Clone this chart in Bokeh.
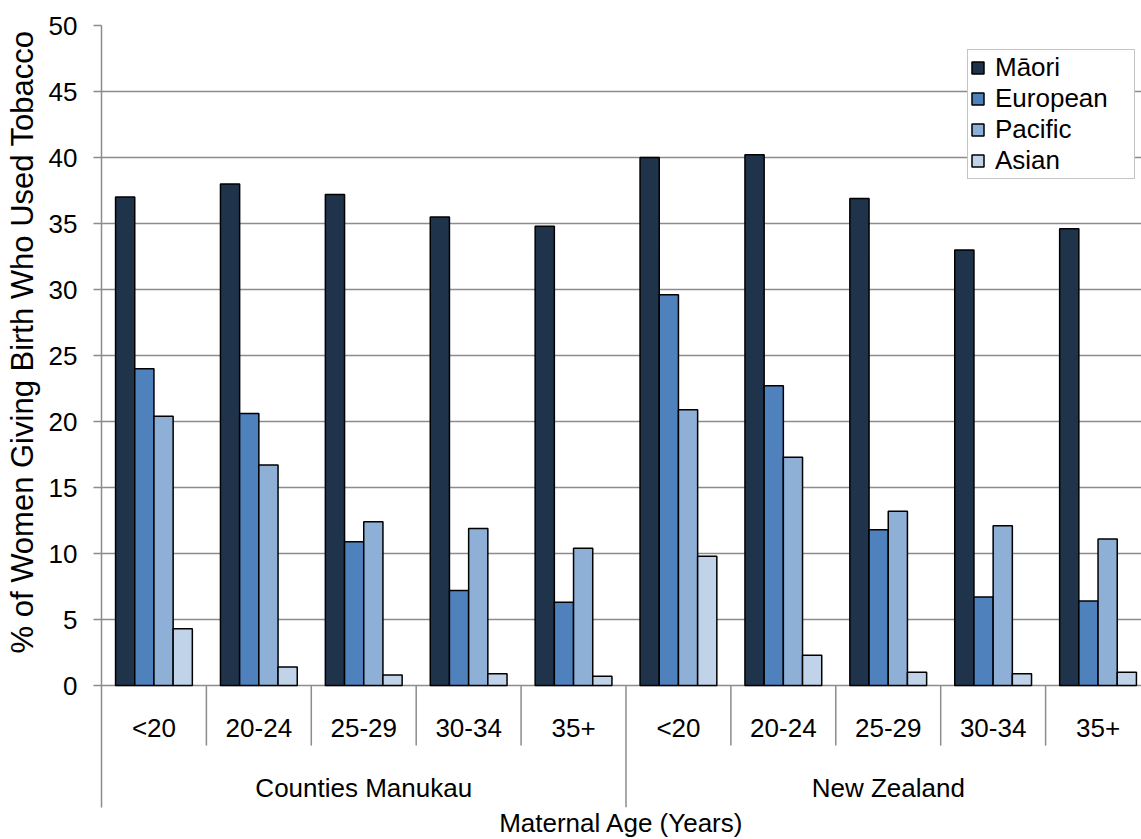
import numpy as np
from bokeh.plotting import figure
from bokeh.models import Range1d, FixedTicker, ColumnDataSource, Legend, LegendItem, Title
from bokeh.core.properties import value
from bokeh.embed import file_html
from bokeh.resources import INLINE

# ---------------- data ----------------
regions = ["Counties Manukau", "New Zealand"]
ages = ["<20", "20-24", "25-29", "30-34", "35+"]
series = ["Māori", "European", "Pacific", "Asian"]

maori    = [37.0, 38.0, 37.2, 35.5, 34.8, 40.0, 40.2, 36.9, 33.0, 34.6]
european = [24.0, 20.6, 10.9, 7.2, 6.3, 29.6, 22.7, 11.8, 6.7, 6.4]
pacific  = [20.4, 16.7, 12.4, 11.9, 10.4, 20.9, 17.3, 13.2, 12.1, 11.1]
asian    = [4.3, 1.4, 0.8, 0.9, 0.7, 9.8, 2.3, 1.0, 0.9, 1.0]

y_ticks = list(range(0, 55, 5))
y_title = "% of Women Giving Birth Who Used Tobacco"
x_title = "Maternal Age (Years)"

# ---------------- style ----------------
colors = ["#1F344B", "#4F81BD", "#8EAFD6", "#C1D3E9"]
FONT = "Liberation Sans"
GRAY = "#8C8C8C"
BAR_W = 0.183
Y_MIN = -9.24

n_age = len(ages)
n_cat = len(regions) * n_age
cat_x = np.arange(n_cat) + 0.5

p = figure(width=1141, height=839,
           x_range=Range1d(0, 1041 / 105), y_range=Range1d(Y_MIN, 50),
           output_backend="svg", toolbar_location=None,
           x_axis_location=None,
           min_border_left=100, min_border_right=0,
           min_border_top=25, min_border_bottom=32)
p.outline_line_color = None
p.background_fill_color = "white"
p.border_fill_color = "white"

# grid
p.xgrid.visible = False
p.ygrid.ticker = FixedTicker(ticks=y_ticks)
p.ygrid.grid_line_color = GRAY
p.ygrid.grid_line_width = 1.5

# y axis
ya = p.yaxis[0]
ya.ticker = FixedTicker(ticks=y_ticks)
ya.axis_line_color = GRAY
ya.axis_line_width = 1.5
ya.major_tick_line_color = GRAY
ya.major_tick_line_width = 1.5
ya.major_tick_out = 8
ya.major_tick_in = 0
ya.minor_tick_line_color = None
ya.major_label_text_font = FONT
ya.major_label_text_font_size = "26px"
ya.major_label_text_color = "black"
ya.major_label_standoff = 16

# titles
p.add_layout(Title(text=y_title, align="left", offset=154, vertical_align="top",
                   standoff=8, text_font=FONT, text_font_size="31px",
                   text_font_style="normal", text_color="black"), "left")
p.add_layout(Title(text=x_title, align="center", vertical_align="top",
                   standoff=0, text_font=FONT, text_font_size="26px",
                   text_font_style="normal", text_color="black"), "below")

# bars
items = []
for k, (name, vals, col) in enumerate(zip(series, [maori, european, pacific, asian], colors)):
    off = (k - (len(series) - 1) / 2) * BAR_W
    src = ColumnDataSource(dict(x=cat_x + off, top=vals))
    r = p.vbar(x="x", top="top", bottom=0, width=BAR_W, source=src,
               fill_color=col, line_color="black", line_width=1.5)
    items.append(LegendItem(label=name, renderers=[r]))

# category separators
bounds = np.arange(1, n_cat)
minor_b = [b for b in bounds if b % n_age != 0]
major_b = [b for b in bounds if b % n_age == 0]
p.segment(x0=minor_b, x1=minor_b, y0=0, y1=-4.55, line_color=GRAY, line_width=1.5)
p.segment(x0=major_b, x1=major_b, y0=0, y1=Y_MIN, line_color=GRAY, line_width=1.5)

# category labels
p.text(x=cat_x, y=-3.2, text=ages * len(regions),
       text_font=value(FONT), text_font_size="26px", text_color="black",
       text_align="center", text_baseline="alphabetic")
group_x = np.arange(len(regions)) * n_age + n_age / 2
p.text(x=group_x, y=-7.8, text=regions,
       text_font=value(FONT), text_font_size="26px", text_color="black",
       text_align="center", text_baseline="alphabetic")

legend = Legend(items=items, location=(866, 628))
legend.label_text_font = FONT
legend.label_text_font_size = "26px"
legend.label_text_color = "black"
legend.glyph_width = 15
legend.glyph_height = 15
legend.label_standoff = 10
legend.label_width = 137
legend.padding = 2
legend.spacing = 0
legend.margin = 0
legend.border_line_color = GRAY
legend.border_line_width = 1.5
legend.background_fill_color = "white"
legend.background_fill_alpha = 1.0
p.add_layout(legend)

open("out.html", "w").write(file_html(p, INLINE))
